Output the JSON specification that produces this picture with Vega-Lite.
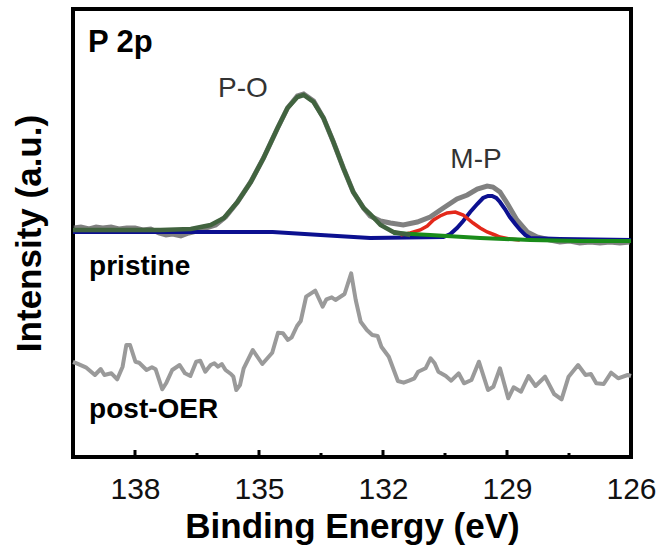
{
  "$schema": "https://vega.github.io/schema/vega-lite/v6.json",
  "width": 558,
  "height": 448,
  "autosize": {"type": "none"},
  "padding": {"left": 73, "top": 9, "right": 31, "bottom": 90},
  "background": "white",
  "config": {
    "view": {"stroke": "black", "strokeWidth": 4},
    "font": "Liberation Sans"
  },
  "encoding": {
    "x": {
      "field": "be", "type": "quantitative",
      "scale": {"domain": [126, 139.5], "reverse": true, "nice": false, "zero": false},
      "axis": {
        "title": "Binding Energy (eV)",
        "values": [138, 135, 132, 129, 126],
        "format": "d",
        "grid": false, "domain": false, "ticks": false,
        "labelFont": "Liberation Sans", "labelFontSize": 30, "labelColor": "#111",
        "labelPadding": 17, "labelFlush": false, "labelOverlap": false,
        "titleFont": "Liberation Sans", "titleFontSize": 35, "titleFontWeight": "bold",
        "titleColor": "black", "titlePadding": 5
      }
    },
    "y": {
      "field": "v", "type": "quantitative",
      "scale": {"domain": [0, 448], "nice": false, "zero": false},
      "axis": {
        "title": "Intensity (a.u.)",
        "ticks": false, "labels": false, "domain": false, "grid": false,
        "titleFont": "Liberation Sans", "titleFontSize": 35, "titleFontWeight": "bold",
        "titleColor": "black", "titlePadding": 26
      }
    }
  },
  "layer": [
    {
      "data": {"values": [
        {"be":139.48,"v":229},{"be":139.31,"v":230},{"be":139.11,"v":228},{"be":138.94,"v":230},{"be":138.78,"v":229},
        {"be":138.58,"v":230},{"be":138.39,"v":228},{"be":138.20,"v":229},{"be":138.00,"v":229},{"be":137.81,"v":227},
        {"be":137.62,"v":228},{"be":137.42,"v":224},{"be":137.25,"v":222},{"be":137.09,"v":223},{"be":136.89,"v":221},
        {"be":136.70,"v":224},{"be":136.51,"v":226},{"be":136.29,"v":229},{"be":136.05,"v":232},{"be":135.81,"v":240},
        {"be":135.52,"v":255},{"be":135.20,"v":275},{"be":134.89,"v":299},{"be":134.55,"v":329},{"be":134.31,"v":349},
        {"be":134.07,"v":361},{"be":133.92,"v":363},{"be":133.68,"v":356},{"be":133.44,"v":339},{"be":133.20,"v":315},
        {"be":132.96,"v":289},{"be":132.72,"v":265},{"be":132.47,"v":249},{"be":132.31,"v":241},{"be":132.06,"v":236},
        {"be":131.82,"v":234},{"be":131.51,"v":232},{"be":131.17,"v":235},{"be":130.86,"v":240},{"be":130.54,"v":249},
        {"be":130.21,"v":258},{"be":129.96,"v":262},{"be":129.72,"v":268},{"be":129.48,"v":271},{"be":129.34,"v":270},
        {"be":129.17,"v":265},{"be":129.00,"v":254},{"be":128.76,"v":237},{"be":128.51,"v":225},{"be":128.27,"v":220},
        {"be":127.96,"v":217},{"be":127.72,"v":215},{"be":127.48,"v":216},{"be":127.24,"v":214},{"be":126.99,"v":215},
        {"be":126.75,"v":214},{"be":126.51,"v":215},{"be":126.27,"v":214},{"be":126.03,"v":215}
      ]},
      "mark": {"type": "line", "color": "#6a6a6a", "strokeWidth": 5, "opacity": 0.85}
    },
    {
      "data": {"values": [
        {"be":139.5,"v":95},{"be":139.41,"v":93.7},{"be":139.19,"v":89.7},{"be":138.97,"v":82},{"be":138.83,"v":88},{"be":138.74,"v":82},
        {"be":138.57,"v":83.7},{"be":138.43,"v":77.7},{"be":138.30,"v":90.3},{"be":138.21,"v":112},{"be":138.12,"v":112},
        {"be":137.99,"v":95.3},{"be":137.90,"v":94.3},{"be":137.72,"v":87},{"be":137.59,"v":89.7},{"be":137.50,"v":87.7},
        {"be":137.34,"v":67.7},{"be":137.24,"v":74.3},{"be":137.10,"v":87},{"be":136.92,"v":92},{"be":136.79,"v":83.7},
        {"be":136.66,"v":81},{"be":136.52,"v":95.3},{"be":136.42,"v":96.3},{"be":136.30,"v":85.3},{"be":136.17,"v":92},
        {"be":136.08,"v":93.7},{"be":135.99,"v":90.3},{"be":135.90,"v":93},{"be":135.81,"v":87},{"be":135.68,"v":83},
        {"be":135.62,"v":80.3},{"be":135.55,"v":67},{"be":135.46,"v":72},{"be":135.37,"v":88.7},{"be":135.15,"v":107},
        {"be":134.92,"v":93},{"be":134.68,"v":104.3},{"be":134.54,"v":124.3},{"be":134.42,"v":123.7},{"be":134.30,"v":117},
        {"be":134.21,"v":119.7},{"be":134.08,"v":131},{"be":133.99,"v":136},{"be":133.86,"v":160.3},{"be":133.64,"v":166.3},
        {"be":133.46,"v":150.3},{"be":133.37,"v":157.7},{"be":133.24,"v":159.7},{"be":133.15,"v":157},{"be":132.93,"v":163},
        {"be":132.77,"v":183.7},{"be":132.66,"v":157},{"be":132.54,"v":135.3},{"be":132.39,"v":127},{"be":132.26,"v":122},
        {"be":132.13,"v":121},{"be":132.04,"v":110.3},{"be":131.86,"v":100.3},{"be":131.64,"v":76},{"be":131.50,"v":74.3},
        {"be":131.37,"v":76.3},{"be":131.24,"v":78.7},{"be":131.15,"v":85.3},{"be":130.97,"v":88.7},{"be":130.85,"v":98.7},
        {"be":130.75,"v":93.7},{"be":130.66,"v":85.3},{"be":130.48,"v":81},{"be":130.35,"v":76.3},{"be":130.17,"v":83.7},
        {"be":130.04,"v":73.7},{"be":129.86,"v":77},{"be":129.68,"v":95.3},{"be":129.46,"v":67},{"be":129.33,"v":70.3},
        {"be":129.17,"v":88.7},{"be":128.97,"v":58.7},{"be":128.84,"v":69.7},{"be":128.66,"v":65.3},{"be":128.48,"v":81},
        {"be":128.31,"v":71},{"be":128.08,"v":80.3},{"be":127.86,"v":63},{"be":127.68,"v":57.7},{"be":127.51,"v":80.3},
        {"be":127.28,"v":92},{"be":127.10,"v":82},{"be":126.97,"v":83},{"be":126.84,"v":73.7},{"be":126.66,"v":73},
        {"be":126.48,"v":84.3},{"be":126.31,"v":78.7},{"be":126.08,"v":82},{"be":126.0,"v":81}
      ]},
      "mark": {"type": "line", "color": "#9a9a9a", "strokeWidth": 4, "strokeJoin": "round"}
    },
    {
      "data": {"values": [
        {"be":139.5,"v":225},{"be":137.62,"v":225},{"be":134.67,"v":225},{"be":133.51,"v":222},{"be":132.31,"v":219},
        {"be":130.54,"v":220},{"be":130.37,"v":223},{"be":130.21,"v":229},{"be":130.06,"v":236},{"be":129.89,"v":245},
        {"be":129.72,"v":253},{"be":129.58,"v":259},{"be":129.46,"v":261},{"be":129.36,"v":261},{"be":129.26,"v":259},
        {"be":129.17,"v":255},{"be":129.05,"v":248},{"be":128.93,"v":240},{"be":128.80,"v":233},{"be":128.68,"v":227},
        {"be":128.56,"v":222},{"be":128.44,"v":219},{"be":127.72,"v":218},{"be":126.0,"v":217}
      ]},
      "mark": {"type": "line", "color": "#0c1090", "strokeWidth": 4}
    },
    {
      "data": {"values": [
        {"be":131.58,"v":222},{"be":131.34,"v":224},{"be":131.10,"v":227},{"be":130.93,"v":231},{"be":130.78,"v":237},
        {"be":130.62,"v":241},{"be":130.45,"v":244},{"be":130.25,"v":245},{"be":130.06,"v":242},{"be":129.82,"v":234},
        {"be":129.65,"v":229},{"be":129.48,"v":225},{"be":129.29,"v":222},{"be":129.17,"v":220},{"be":128.93,"v":218},
        {"be":128.69,"v":217}
      ]},
      "mark": {"type": "line", "color": "#e3281a", "strokeWidth": 3.5}
    },
    {
      "data": {"values": [
        {"be":131.75,"v":224},{"be":130.86,"v":222},{"be":129.65,"v":219},{"be":128.44,"v":217},{"be":127.24,"v":216},{"be":126.0,"v":216}
      ]},
      "mark": {"type": "line", "color": "#1a8c1a", "strokeWidth": 4}
    },
    {
      "data": {"values": [
        {"be":139.5,"v":227},{"be":138.82,"v":227},{"be":138.10,"v":227},{"be":137.38,"v":227},{"be":136.65,"v":228},
        {"be":136.17,"v":232},{"be":135.85,"v":239},{"be":135.52,"v":255},{"be":135.20,"v":275},{"be":134.89,"v":299},
        {"be":134.55,"v":329},{"be":134.31,"v":349},{"be":134.07,"v":360},{"be":133.92,"v":362},{"be":133.68,"v":355},
        {"be":133.44,"v":339},{"be":133.20,"v":315},{"be":132.96,"v":289},{"be":132.72,"v":265},{"be":132.47,"v":249},
        {"be":132.31,"v":243},{"be":132.06,"v":232},{"be":131.75,"v":225},{"be":131.34,"v":222}
      ]},
      "mark": {"type": "line", "color": "#41633f", "strokeWidth": 4.5}
    },
    {
      "data": {"values": [
        {"be":138,"v":0,"v2":7},{"be":135,"v":0,"v2":7},{"be":132,"v":0,"v2":7},{"be":129,"v":0,"v2":7}
      ]},
      "mark": {"type": "rule", "color": "black", "strokeWidth": 3},
      "encoding": {"y2": {"field": "v2"}}
    },
    {
      "data": {"values": [
        {"be":136.5,"v":0,"v2":4},{"be":133.5,"v":0,"v2":4},{"be":130.5,"v":0,"v2":4},{"be":127.5,"v":0,"v2":4}
      ]},
      "mark": {"type": "rule", "color": "black", "strokeWidth": 3},
      "encoding": {"y2": {"field": "v2"}}
    },
    {
      "data": {"values": [{"be":139.14,"v":405,"label":"P 2p"}]},
      "mark": {"type": "text", "align": "left", "baseline": "alphabetic", "font": "Liberation Sans", "fontSize": 31, "fontWeight": "bold", "color": "black"},
      "encoding": {"text": {"field": "label"}}
    },
    {
      "data": {"values": [{"be":139.11,"v":182,"label":"pristine"},{"be":139.11,"v":39,"label":"post-OER"}]},
      "mark": {"type": "text", "align": "left", "baseline": "alphabetic", "font": "Liberation Sans", "fontSize": 28, "fontWeight": "bold", "color": "black"},
      "encoding": {"text": {"field": "label"}}
    },
    {
      "data": {"values": [{"be":135.39,"v":360,"label":"P-O"},{"be":129.75,"v":289,"label":"M-P"}]},
      "mark": {"type": "text", "align": "center", "baseline": "alphabetic", "font": "Liberation Sans", "fontSize": 28, "color": "#333333"},
      "encoding": {"text": {"field": "label"}}
    }
  ]
}
